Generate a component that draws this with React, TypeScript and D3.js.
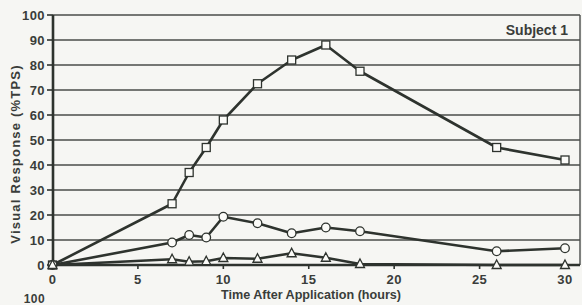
import React from "react";
import * as d3 from "d3";

const hours = [0, 7, 8, 9, 10, 12, 14, 16, 18, 26, 30];
const squareSeries = [0, 24.5, 37, 47, 58, 72.5, 82, 88, 77.5, 47, 42];
const circleSeries = [0, 9, 12, 11, 19.3, 16.7, 12.7, 15, 13.5, 5.5, 6.7];
const triangleSeries = [0, 2.3, 1.3, 1.5, 2.8, 2.5, 4.7, 2.9, 0.4, 0, 0];
const xTicks = [0, 5, 10, 15, 20, 25, 30];
const yTicks = [0, 10, 20, 30, 40, 50, 60, 70, 80, 90, 100];
const title = "Subject 1";
const xLabel = "Time After Application (hours)";
const yLabel = "Visual Response (%TPS)";
const nextChartTick = "100";

const W = 582;
const H = 305;
const left = 53;
const right = 580;
const top = 15;
const bottom = 265;

export default function App() {
  const x = d3.scaleLinear().domain([0, 30]).range([52.5, 565]);
  const y = d3.scaleLinear().domain([0, 100]).range([bottom, top]);
  const line = d3
    .line<[number, number]>()
    .x((d) => x(d[0]))
    .y((d) => y(d[1]));
  const ink = "#2e332e";
  const txt = "#3a3d3a";
  const font = "Liberation Sans, Arial, sans-serif";
  const mk = (vals: number[]) => hours.map((h, i) => [h, vals[i]] as [number, number]);

  return (
    <svg
      width={W}
      height={H}
      style={{ position: "absolute", left: 0, top: 0, background: "#f6f6f3" }}
      fontFamily={font}
    >
      <rect x={0} y={0} width={W} height={H} fill="#f6f6f3" />
      {/* grid */}
      {yTicks.map((t) => (
        <g key={t}>
          <line x1={left} x2={right} y1={y(t)} y2={y(t)} stroke="#4a4d4a" strokeWidth={1.4} />
          <line x1={left - 6} x2={left} y1={y(t)} y2={y(t)} stroke={ink} strokeWidth={1.6} />
          <text
            x={left - 8}
            y={y(t) + 4.5}
            textAnchor="end"
            fontSize={13}
            letterSpacing={0.4}
            fontWeight="bold"
            fill={txt}
          >
            {t}
          </text>
        </g>
      ))}
      <line x1={right} x2={right} y1={top} y2={bottom} stroke="#4a4d4a" strokeWidth={1.4} />
      {/* x ticks */}
      {xTicks.map((t) => (
        <g key={t}>
          <line x1={x(t)} x2={x(t)} y1={bottom} y2={bottom + 4} stroke={ink} strokeWidth={1.6} />
          <text
            x={x(t)}
            y={bottom + 19}
            textAnchor="middle"
            fontSize={13}
            letterSpacing={0.4}
            fontWeight="bold"
            fill={txt}
          >
            {t}
          </text>
        </g>
      ))}
      {/* series lines */}
      {[squareSeries, circleSeries, triangleSeries].map((s, i) => (
        <path key={i} d={line(mk(s)) || ""} fill="none" stroke={ink} strokeWidth={2.6} strokeLinejoin="round" />
      ))}
      {/* axes */}
      <line x1={left} x2={right} y1={bottom} y2={bottom} stroke={ink} strokeWidth={2.6} />
      <line x1={left} x2={left} y1={top} y2={bottom} stroke={ink} strokeWidth={2.6} />
      {/* markers */}
      {mk(squareSeries).map((d, i) => (
        <rect
          key={"s" + i}
          x={x(d[0]) - 4}
          y={y(d[1]) - 4}
          width={8}
          height={8}
          fill="#fbfbf8"
          stroke={ink}
          strokeWidth={1.3}
        />
      ))}
      {mk(circleSeries).map((d, i) => (
        <circle key={"c" + i} cx={x(d[0])} cy={y(d[1])} r={4.3} fill="#fbfbf8" stroke={ink} strokeWidth={1.3} />
      ))}
      {mk(triangleSeries).map((d, i) => {
        const cx = x(d[0]);
        const cy = y(d[1]);
        const p = d3.path();
        p.moveTo(cx, cy - 5);
        p.lineTo(cx + 4.5, cy + 3.5);
        p.lineTo(cx - 4.5, cy + 3.5);
        p.closePath();
        return <path key={"t" + i} d={p.toString()} fill="#fbfbf8" stroke={ink} strokeWidth={1.3} />;
      })}
      {/* labels */}
      <text x={568} y={35} textAnchor="end" fontSize={14} fontWeight="bold" fill={txt}>
        {title}
      </text>
      <text x={311} y={298.5} textAnchor="middle" fontSize={12.6} fontWeight="bold" fill={txt}>
        {xLabel}
      </text>
      <text
        transform={`translate(20, 154) rotate(-90)`}
        textAnchor="middle"
        fontSize={13}
        letterSpacing={1.2}
        fontWeight="bold"
        fill={txt}
      >
        {yLabel}
      </text>
      <text x={45} y={303} textAnchor="end" fontSize={12} letterSpacing={0.4} fontWeight="bold" fill={txt}>
        {nextChartTick}
      </text>
    </svg>
  );
}
